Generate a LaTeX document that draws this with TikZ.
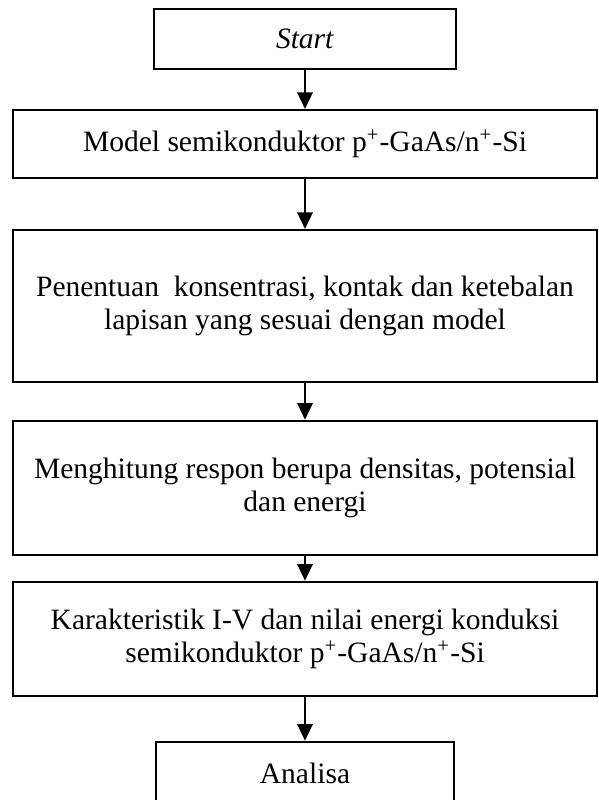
\documentclass[tikz,border=0pt]{standalone}
\usepackage{fontspec}
\setmainfont{Liberation Serif}
\usetikzlibrary{arrows.meta,positioning}

\begin{document}
\begin{tikzpicture}[
        x=0.42pt, y=-0.42pt,
        node distance=16pt,
        step box/.style={rectangle, draw, align=center, inner sep=0pt, line width=0.8pt, font=\fontsize{12.4}{14}\selectfont},
        wide box/.style={step box, minimum width=245pt},
        arrow/.style={draw, -{Triangle[length=7pt,width=6.5pt]}, line width=0.8pt}
    ]
    \useasboundingbox (0,0) rectangle (598,800);

    % Start
    \node [step box, minimum width=126.8pt, minimum height=25.2pt] (start) at (305,39) {\textit{Start}};

    % Model
    \node [wide box, minimum height=28.6pt, below=16.4pt of start] (model) {Model semikonduktor p\textsuperscript{+}-GaAs/n\textsuperscript{+}-Si};

    % Penentuan
    \node [wide box, minimum height=63.8pt, below=21pt of model] (tentu) {Penentuan~ konsentrasi, kontak dan ketebalan\\lapisan yang sesuai dengan model};

    % Menghitung
    \node [wide box, minimum height=56.3pt, below=15.5pt of tentu] (hitung) {Menghitung respon berupa densitas, potensial\\dan energi};

    % Karakteristik
    \node [wide box, minimum height=47.9pt, below=10.5pt of hitung] (karak) {Karakteristik I-V dan nilai energi konduksi\\semikonduktor p\textsuperscript{+}-GaAs/n\textsuperscript{+}-Si};

    % Analisa (bottom edge runs off the page)
    \node [step box, minimum width=125.2pt, minimum height=26.5pt, below=18.5pt of karak] (analisa) {Analisa};

    % arrows
    \path [arrow] (start) -- (model);
    \path [arrow] (model) -- (tentu);
    \path [arrow] (tentu) -- (hitung);
    \path [arrow] (hitung) -- (karak);
    \path [arrow] (karak) -- (analisa);

\end{tikzpicture}
\end{document}
